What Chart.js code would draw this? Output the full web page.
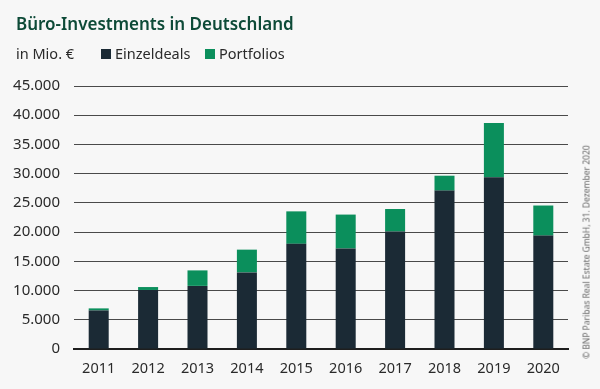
<!DOCTYPE html>
<html>
<head>
<meta charset="utf-8">
<script src="https://cdn.jsdelivr.net/npm/chart.js@4/dist/chart.umd.min.js"></script>
<style>
  html, body { margin: 0; padding: 0; background: #f7f7f7; }
  #wrap { position: relative; width: 600px; height: 389px; overflow: hidden; font-family: "Noto Sans", sans-serif; }
  #chart { position: absolute; left: 0; top: 0; }
  .title { position: absolute; left: 16px; top: 12px; font-size: 17px; font-weight: 600; color: #0d4a37; white-space: nowrap; }
  .unit { position: absolute; left: 16px; top: 43px; font-size: 14.5px; color: #2a2a2a; white-space: nowrap; }
  .leg { position: absolute; top: 43px; font-size: 14.5px; color: #2a2a2a; white-space: nowrap; }
  .leg i { display: inline-block; width: 10px; height: 10px; margin-right: 4px; vertical-align: 0px; }
  .copy { position: absolute; left: 586px; top: 252px; font-size: 8.5px; color: #666; white-space: nowrap;
          transform: translate(-50%, -50%) rotate(-90deg); }
</style>
</head>
<body>
<div id="wrap">
  <canvas id="chart" width="600" height="389"></canvas>
  <div class="title">Büro-Investments in Deutschland</div>
  <div class="unit">in Mio. €</div>
  <div class="leg" style="left:101px"><i style="background:#1b2a35"></i>Einzeldeals</div>
  <div class="leg" style="left:205px"><i style="background:#0b8f5c"></i>Portfolios</div>
  <div class="copy">© BNP Paribas Real Estate GmbH, 31. Dezember 2020</div>
</div>
<script>
const years = ['2011', '2012', '2013', '2014', '2015', '2016', '2017', '2018', '2019', '2020'];
const einzeldeals = [6600, 10100, 10800, 13100, 18000, 17200, 20100, 27100, 29400, 19400];
const portfolios = [350, 500, 2650, 3900, 5550, 5800, 3850, 2550, 9250, 5150];

function fmt(v) {
  return String(v).replace(/\B(?=(\d{3})+(?!\d))/g, '.');
}

const ctx = document.getElementById('chart').getContext('2d');
new Chart(ctx, {
  type: 'bar',
  data: {
    labels: years,
    datasets: [
      { label: 'Einzeldeals', data: einzeldeals, backgroundColor: '#1b2a35' },
      { label: 'Portfolios', data: portfolios, backgroundColor: '#0b8f5c' }
    ]
  },
  options: {
    responsive: false,
    animation: false,
    layout: { padding: { top: 86, right: 32, bottom: 0, left: 0 } },
    plugins: { legend: { display: false }, tooltip: { enabled: false } },
    datasets: { bar: { categoryPercentage: 1, barPercentage: 0.405 } },
    scales: {
      x: {
        stacked: true,
        grid: { display: false },
        border: { color: '#1e1e1e', width: 2 },
        ticks: { color: '#2a2a2a', font: { family: 'Noto Sans', size: 14.5 }, padding: 3, maxRotation: 0 },
        afterFit: s => { s.height = 40; }
      },
      y: {
        stacked: true,
        min: 0,
        max: 45000,
        grid: { color: '#4a4a4a', lineWidth: 1, drawTicks: false },
        border: { display: false },
        ticks: {
          stepSize: 5000,
          color: '#2a2a2a',
          font: { family: 'Noto Sans', size: 15 },
          padding: 14,
          callback: v => fmt(v)
        },
        afterFit: s => { s.width = 74; }
      }
    }
  }
});
</script>
</body>
</html>
